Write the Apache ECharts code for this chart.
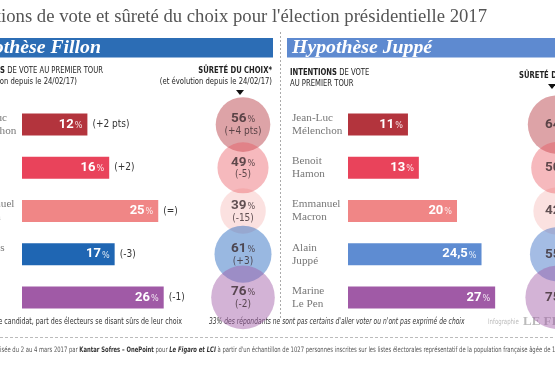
<!DOCTYPE html>
<html><head><meta charset="utf-8">
<script src="https://cdn.jsdelivr.net/npm/echarts@6/dist/echarts.min.js"></script>
<style>html,body{margin:0;padding:0;background:#fff}#c{width:555px;height:370px}</style>
</head><body><div id="c"></div>
<script>
// ---- data ----
const namesFillon = ['Jean-Luc\nMélenchon', 'Benoit\nHamon', 'Emmanuel\nMacron', 'François\nFillon', 'Marine\nLe Pen'];
const namesJuppe = ['Jean-Luc\nMélenchon', 'Benoit\nHamon', 'Emmanuel\nMacron', 'Alain\nJuppé', 'Marine\nLe Pen'];
const votesFillon = [12, 16, 25, 17, 26];
const votesChangeFillon = ['(+2 pts)', '(+2)', '(=)', '(-3)', '(-1)'];
const certFillon = [56, 49, 39, 61, 76];
const certChangeFillon = ['(+4 pts)', '(-5)', '(-15)', '(+3)', '(-2)'];
const votesJuppe = [11, 13, 20, 24.5, 27];
const certJuppe = [64, 50, 42, 55, 75];

// ---- styles ----
const SERIF = '"Liberation Serif", "DejaVu Serif", serif';
const NARROW = '"Liberation Sans Narrow", "DejaVu Sans Condensed", sans-serif';
const NUM = 'Roboto, "Liberation Sans", sans-serif';
const barColorsFillon = ['#b3343d', '#e9435b', '#f08686', '#1f66b3', '#a05aa6'];
const barColorsJuppe = ['#b3343d', '#e9435b', '#f08686', '#5e8cd2', '#a05aa6'];
const circColorsFillon = ['rgba(181,52,61,0.57)', 'rgba(232,80,90,0.5)', 'rgba(235,120,115,0.28)', 'rgba(30,100,190,0.57)', 'rgba(160,90,166,0.58)'];
const circColorsJuppe = ['rgba(181,52,61,0.57)', 'rgba(232,80,90,0.5)', 'rgba(235,120,115,0.28)', 'rgba(70,120,200,0.62)', 'rgba(160,90,166,0.58)'];

const fmt = v => String(v).replace('.', ',');
const GT = 103, GH = 216, PXPCT = 5.45, XMAX = 30;

function measure(text, font) {
  const c = document.createElement('canvas').getContext('2d');
  c.font = font; return c.measureText(text).width;
}

const chart = echarts.init(document.getElementById('c'), null, {renderer: 'canvas'});

const barLabelRich = {
  v: {fontFamily: NUM, fontWeight: 'bold', fontSize: 13, color: '#fff'},
  p: {fontFamily: NARROW, fontSize: 9, color: 'rgba(255,255,255,0.85)', padding: [2, 0, 0, 1]}
};
const circRich = {
  v: {fontFamily: NUM, fontWeight: 'bold', fontSize: 13.5, color: '#3a2b2e'},
  p: {fontFamily: NARROW, fontSize: 9, color: '#3a2b2e', padding: [2, 0, 0, 1]},
  d: {fontFamily: NARROW, fontSize: 10, color: '#3a2b2e', lineHeight: 11}
};

function catAxis(grid, data, showLabels) {
  return {
    type: 'category', gridIndex: grid, data: data, inverse: true,
    axisLine: {show: false}, axisTick: {show: false}, splitLine: {show: false},
    axisLabel: showLabels ? {show: true, align: 'left', margin: 56, fontFamily: SERIF, fontSize: 11.2, color: '#777', lineHeight: 13} : {show: false}
  };
}
function valAxis(grid, min, max) {
  return {type: 'value', gridIndex: grid, min: min, max: max, show: false, splitLine: {show: false}};
}
function grid(left, width) {
  return {left: left, top: GT, width: width, height: GH, containLabel: false, outerBoundsMode: 'none'};
}

const FS = 0.8; // horizontal condensing of the small sans texts
const FOOT_SCALE = 0.78;
const footerFont = '7.5px ' + NARROW;
const footerPrefix = 'Enquête réal';
const footerX = -measure(footerPrefix, footerFont) * FOOT_SCALE;

function smallText(x, y, text, opts) {
  opts = opts || {};
  return {type: 'text', x: x, y: y, scaleX: opts.scale || FS, style: Object.assign({
    text: text, font: (opts.font || '9.5px ') + NARROW, fill: opts.fill || '#222', align: opts.align || 'left', verticalAlign: 'middle'
  }, opts.style || {})};
}

const option = {
  animation: false,
  backgroundColor: '#fff',
  grid: [grid(22, PXPCT * XMAX), grid(348, PXPCT * XMAX), grid(223, 40), grid(537, 40)],
  xAxis: [valAxis(0, 0, XMAX), valAxis(1, 0, XMAX), valAxis(2, -1, 1), valAxis(3, -1, 1)],
  yAxis: [catAxis(0, namesFillon, true), catAxis(1, namesJuppe, true), catAxis(2, namesFillon, false), catAxis(3, namesJuppe, false)],
  series: [
    {
      type: 'bar', xAxisIndex: 0, yAxisIndex: 0, barWidth: 22, barGap: '-100%',
      data: votesFillon.map((v, i) => ({value: v, itemStyle: {color: barColorsFillon[i]}})),
      label: {show: true, position: 'insideRight', distance: 5, formatter: p => '{v|' + fmt(p.value) + '}{p|%}', rich: barLabelRich}
    },
    {
      type: 'bar', xAxisIndex: 0, yAxisIndex: 0, barWidth: 22, barGap: '-100%',
      data: votesFillon, itemStyle: {color: 'rgba(0,0,0,0)'},
      label: {show: true, position: 'right', distance: 5, formatter: p => votesChangeFillon[p.dataIndex], fontFamily: NARROW, fontSize: 10, color: '#333'}
    },
    {
      type: 'bar', xAxisIndex: 1, yAxisIndex: 1, barWidth: 22,
      data: votesJuppe.map((v, i) => ({value: v, itemStyle: {color: barColorsJuppe[i]}})),
      label: {show: true, position: 'insideRight', distance: 5, formatter: p => '{v|' + fmt(p.value) + '}{p|%}', rich: barLabelRich}
    },
    {
      type: 'scatter', xAxisIndex: 2, yAxisIndex: 2,
      data: certFillon.map((v, i) => ({value: [0, i, v], itemStyle: {color: circColorsFillon[i]}})),
      symbolSize: d => 7.3 * Math.sqrt(d[2]),
      label: {show: true, position: 'inside', formatter: p => '{v|' + p.value[2] + '}{p|%}\n{d|' + certChangeFillon[p.dataIndex] + '}', rich: circRich}
    },
    {
      type: 'scatter', xAxisIndex: 3, yAxisIndex: 3,
      data: certJuppe.map((v, i) => ({value: [0, i, v], itemStyle: {color: circColorsJuppe[i]}})),
      symbolSize: d => 7.3 * Math.sqrt(d[2]),
      label: {show: true, position: 'inside', formatter: p => '{v|' + p.value[2] + '}{p|%}', rich: circRich}
    }
  ],
  graphic: [
    // title
    {type: 'text', x: 487, y: 17, style: {text: "Intentions de vote et sûreté du choix pour l'élection présidentielle 2017", font: '18.7px ' + SERIF, fill: '#555', align: 'right', verticalAlign: 'middle'}},
    // header bars
    {type: 'rect', shape: {x: 0, y: 38, width: 273, height: 19.5}, style: {fill: '#2c6db5'}},
    {type: 'rect', shape: {x: 287, y: 38, width: 268, height: 19.5}, style: {fill: '#5e8ad0'}},
    {type: 'text', x: 101, y: 47.5, style: {text: 'Hypothèse Fillon', font: 'italic bold 19.8px ' + SERIF, fill: '#fff', align: 'right', verticalAlign: 'middle'}},
    {type: 'text', x: 292, y: 47.5, style: {text: 'Hypothèse Juppé', font: 'italic bold 19.8px ' + SERIF, fill: '#fff', align: 'left', verticalAlign: 'middle'}},
    // separator
    {type: 'line', shape: {x1: 280.5, y1: 32, x2: 280.5, y2: 318}, style: {stroke: '#aaa', lineWidth: 1, lineDash: [2, 2]}},
    // subheaders left
    smallText(103, 71, '{b|INTENTIONS} DE VOTE AU PREMIER TOUR', {align: 'right', style: {rich: {b: {font: 'bold 9.5px ' + NARROW, fill: '#222'}}}}),
    smallText(77, 82, '(et évolution depuis le 24/02/17)', {align: 'right'}),
    smallText(272, 71, 'SÛRETÉ DU CHOIX*', {align: 'right', font: 'bold 9.5px '}),
    smallText(272, 82, '(et évolution depuis le 24/02/17)', {align: 'right'}),
    {type: 'polygon', shape: {points: [[236, 90], [244, 90], [240, 95]]}, style: {fill: '#111'}},
    // subheaders right
    smallText(290, 73, '{b|INTENTIONS} DE VOTE', {style: {rich: {b: {font: 'bold 9.5px ' + NARROW, fill: '#222'}}}}),
    smallText(290, 84, 'AU PREMIER TOUR'),
    smallText(519, 76, 'SÛRETÉ DU CHOIX*', {font: 'bold 9.5px '}),
    {type: 'polygon', shape: {points: [[548, 84], [556, 84], [552, 89]]}, style: {fill: '#111'}},
    // footer
    smallText(182, 322, '* Pour chaque candidat, part des électeurs se disant sûrs de leur choix', {align: 'right', font: '9px ', fill: '#333', scale: 0.78}),
    smallText(209, 322, "33% des répondants ne sont pas certains d'aller voter ou n'ont pas exprimé de choix", {font: 'italic 9px ', fill: '#333', scale: 0.74}),
    smallText(488, 322, 'Infographie', {font: '7.5px ', fill: '#bbb'}),
    {type: 'text', x: 523, y: 322, style: {text: 'LE FIGARO', font: 'bold 13px ' + SERIF, fill: '#bbb', align: 'left', verticalAlign: 'middle'}},
    {type: 'line', shape: {x1: 0, y1: 337.5, x2: 555, y2: 337.5}, style: {stroke: '#bbb', lineWidth: 1, lineDash: [3, 2]}},
    {type: 'text', x: footerX, y: 350, scaleX: FOOT_SCALE, style: {
      text: "Enquête réalisée du 2 au 4 mars 2017 par {b|Kantar Sofres – OnePoint} pour {i|Le Figaro et LCI} à partir d'un échantillon de 1027 personnes inscrites sur les listes électorales représentatif de la population française âgée de 18 ans et plus.",
      font: footerFont, fill: '#555', align: 'left', verticalAlign: 'middle',
      rich: {b: {font: 'bold 7.5px ' + NARROW, fill: '#333'}, i: {font: 'italic bold 7.5px ' + NARROW, fill: '#333'}}
    }}
  ]
};
chart.setOption(option);
</script></body></html>
